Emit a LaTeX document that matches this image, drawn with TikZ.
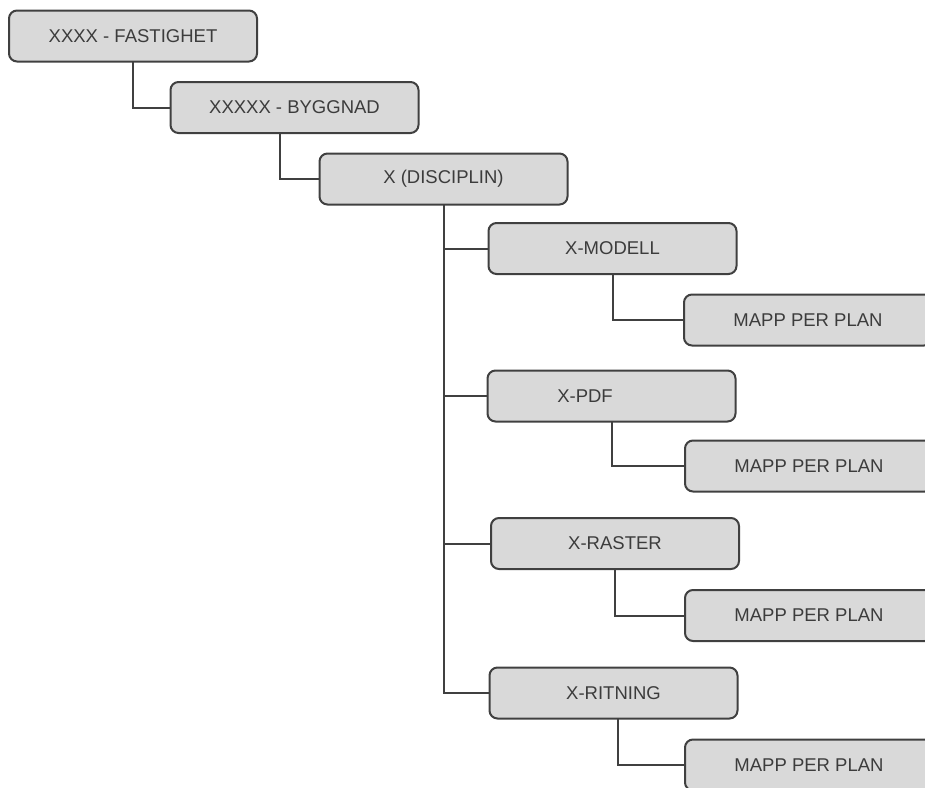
\documentclass[tikz,border=0pt]{standalone}
\usepackage{fontspec}
\setmainfont{Liberation Sans}
\definecolor{boxfill}{HTML}{D9D9D9}
\definecolor{boxline}{HTML}{404040}
\definecolor{txt}{HTML}{3C3C3C}
\begin{document}
\begin{tikzpicture}[x=1pt,y=-1pt,
  box/.style={draw=boxline, fill=boxfill, line width=2pt, rounded corners=8pt,
    minimum width=248pt, minimum height=51pt, inner sep=0pt, outer sep=0pt,
    text=txt, font=\fontsize{18.5}{20}\selectfont},
  lbl/.style={text=txt, font=\fontsize{18.5}{20}\selectfont, inner sep=0pt},
  conn/.style={draw=boxline, line width=2pt}]
\useasboundingbox (0,0) rectangle (925,787);

\node[box] (fast) at (133,36) {XXXX - FASTIGHET};
\node[box] (bygg) at (294.5,107.5) {XXXXX - BYGGNAD};
\node[box] (disc) at (443.5,179) {X (DISCIPLIN)};
\node[box] (modell) at (612.5,248.5) {X-MODELL};
\node[box] (m1) at (808,320) {MAPP PER PLAN};
\node[box] (pdf) at (611.5,396) {};
\node[lbl] (pdftxt) at (585,396) {X-PDF};
\node[box] (m2) at (809,466) {MAPP PER PLAN};
\node[box] (raster) at (615,543.5) {X-RASTER};
\node[box] (m3) at (809,615.5) {MAPP PER PLAN};
\node[box] (ritning) at (613.5,693) {X-RITNING};
\node[box] (m4) at (809,765) {MAPP PER PLAN};

\draw[conn] (fast.south) |- (bygg.west);
\draw[conn] ([xshift=-14.5pt]bygg.south) |- (disc.west);
\draw[conn] (disc.south) |- (ritning.west);
\draw[conn] (disc.south |- modell.west) -- (modell.west);
\draw[conn] (disc.south |- pdf.west) -- (pdf.west);
\draw[conn] (disc.south |- raster.west) -- (raster.west);
\draw[conn] (modell.south) |- (m1.west);
\draw[conn] (pdf.south) |- (m2.west);
\draw[conn] (raster.south) |- (m3.west);
\draw[conn] ([xshift=4.5pt]ritning.south) |- (m4.west);
\end{tikzpicture}
\end{document}
